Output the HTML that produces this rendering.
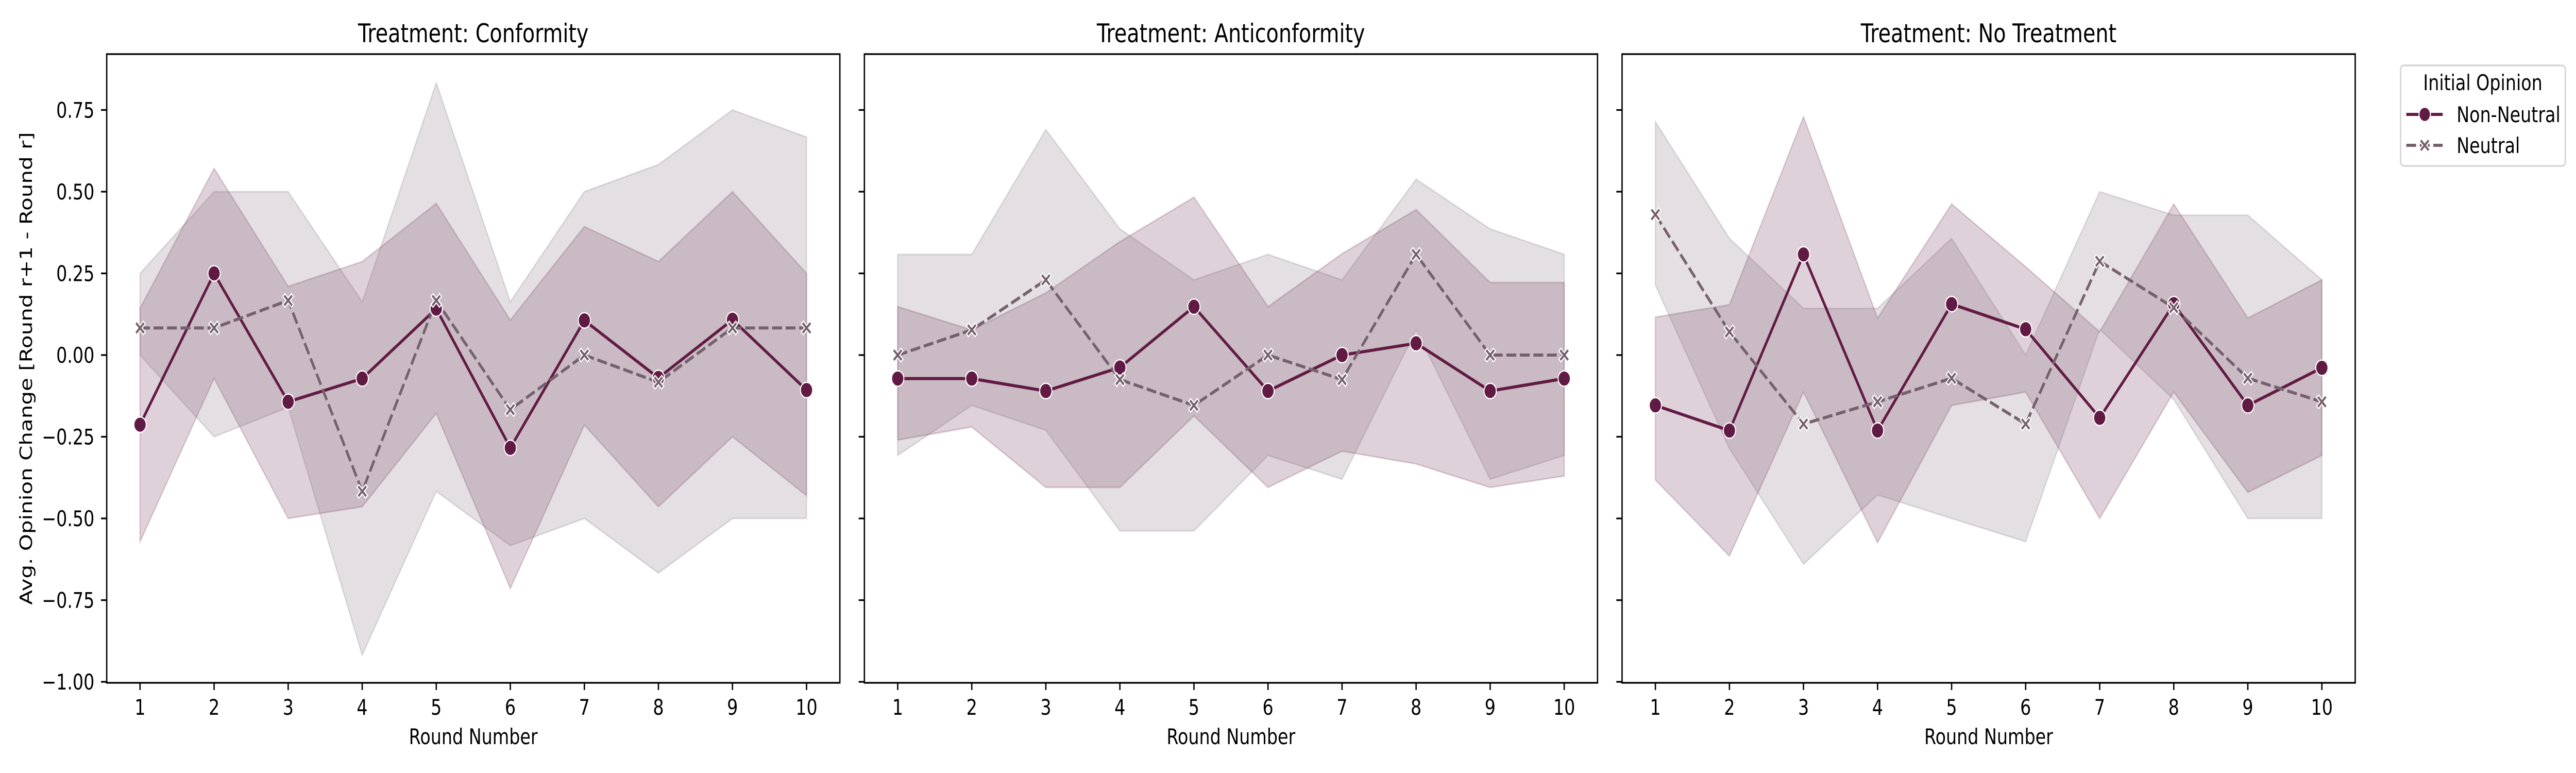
<!DOCTYPE html>
<html><head><meta charset="utf-8"><style>
html,body{margin:0;padding:0;background:#fff;width:100%;height:100%;overflow:hidden}
svg{display:block;width:100vw;height:100vh}
text{font-family:"DejaVu Sans","Liberation Sans",sans-serif;fill:#000}
</style></head><body>
<svg id="chart" viewBox="0 0 6300 1500" preserveAspectRatio="none" xmlns="http://www.w3.org/2000/svg">
<g id="panels"></g>
<g id="legend">
  <rect x="5871" y="127" width="403" height="195" rx="8" fill="#fff" stroke="#d6d6d6" stroke-width="3.5"/>
  <text x="6072" y="175" font-size="42" text-anchor="middle">Initial Opinion</text>
  <g>
    <line x1="5885" y1="222" x2="5974" y2="222" stroke="#611a43" stroke-width="6"/>
    <circle cx="5930" cy="222" r="14" fill="#611a43" stroke="#fff" stroke-width="2.5"/>
    <text x="6008" y="237" font-size="42">Non-Neutral</text>
  </g>
  <g>
    <line x1="5885" y1="282" x2="5974" y2="282" stroke="#75606d" stroke-width="6" stroke-dasharray="24,9"/>
    <path d="M-13,-8 L-8,-13 L0,-5 L8,-13 L13,-8 L5,0 L13,8 L8,13 L0,5 L-8,13 L-13,8 L-5,0 Z" transform="translate(5930,282)" fill="#75606d" stroke="#fff" stroke-width="2.5"/>
    <text x="6008" y="297" font-size="42">Neutral</text>
  </g>
</g>
</svg>
<script>
const rounds = [1,2,3,4,5,6,7,8,9,10];
const titles = ["Treatment: Conformity","Treatment: Anticonformity","Treatment: No Treatment"];
const yTicks = [-1.00,-0.75,-0.50,-0.25,0.00,0.25,0.50,0.75];
const yTickLabels = ["\u22121.00","\u22120.75","\u22120.50","\u22120.25","0.00","0.25","0.50","0.75"];

// Conformity
const confNN = [-0.213,0.25,-0.143,-0.072,0.142,-0.284,0.106,-0.07,0.108,-0.107];
const confNNhi = [0.143,0.571,0.21,0.286,0.464,0.107,0.393,0.286,0.5,0.25];
const confNNlo = [-0.571,-0.071,-0.5,-0.464,-0.178,-0.714,-0.214,-0.464,-0.25,-0.43];
const confN = [0.083,0.083,0.167,-0.417,0.167,-0.167,0,-0.083,0.083,0.083];
const confNhi = [0.25,0.5,0.5,0.163,0.833,0.163,0.5,0.583,0.75,0.667];
const confNlo = [0,-0.25,-0.16,-0.918,-0.417,-0.583,-0.5,-0.667,-0.5,-0.5];
// Anticonformity
const antiNN = [-0.072,-0.072,-0.11,-0.038,0.148,-0.11,0,0.036,-0.11,-0.072];
const antiNNhi = [0.148,0.077,0.19,0.347,0.483,0.148,0.31,0.445,0.222,0.222];
const antiNNlo = [-0.26,-0.22,-0.405,-0.405,-0.186,-0.405,-0.294,-0.333,-0.405,-0.37];
const antiN = [0,0.077,0.23,-0.075,-0.154,0,-0.075,0.308,0,0];
const antiNhi = [0.308,0.308,0.69,0.386,0.23,0.308,0.23,0.538,0.386,0.308];
const antiNlo = [-0.307,-0.154,-0.23,-0.538,-0.538,-0.307,-0.38,0.077,-0.38,-0.307];
// No treatment
const noNN = [-0.154,-0.231,0.308,-0.231,0.156,0.079,-0.192,0.156,-0.154,-0.039];
const noNNhi = [0.116,0.154,0.729,0.113,0.462,0.27,0.071,0.462,0.113,0.23];
const noNNlo = [-0.382,-0.615,-0.113,-0.574,-0.154,-0.113,-0.5,-0.113,-0.42,-0.307];
const noN = [0.43,0.071,-0.211,-0.143,-0.071,-0.211,0.287,0.145,-0.071,-0.143];
const noNhi = [0.714,0.357,0.143,0.143,0.357,0,0.5,0.428,0.428,0.23];
const noNlo = [0.214,-0.286,-0.64,-0.428,-0.5,-0.571,0.079,-0.136,-0.5,-0.5];

const panelData = [
  {nn:confNN,nnHi:confNNhi,nnLo:confNNlo,n:confN,nHi:confNhi,nLo:confNlo},
  {nn:antiNN,nnHi:antiNNhi,nnLo:antiNNlo,n:antiN,nHi:antiNhi,nLo:antiNlo},
  {nn:noNN,nnHi:noNNhi,nnLo:noNNlo,n:noN,nHi:noNhi,nLo:noNlo}
];
const panelLeft = [261,2114,3967];
const panelW = 1793, plotTop = 105, plotBottom = 1325;
const xMin = 0.55, xMax = 10.45, yMin = -1.003, yMax = 0.921;
const NS = "http://www.w3.org/2000/svg";
const rootG = document.getElementById('panels');
const xPath = 'M-13,-8 L-8,-13 L0,-5 L8,-13 L13,-8 L5,0 L13,8 L8,13 L0,5 L-8,13 L-13,8 L-5,0 Z';
function mk(tag, attrs, parent){const e=document.createElementNS(NS,tag);for(const k in attrs)e.setAttribute(k,attrs[k]);parent.appendChild(e);return e;}

panelData.forEach((d,pi)=>{
  const L = panelLeft[pi];
  const xs = v => L + (v - xMin)/(xMax - xMin)*panelW;
  const ys = v => plotBottom - (v - yMin)/(yMax - yMin)*(plotBottom - plotTop);
  const g = mk('g',{},rootG);
  
  
  const title = mk('text',{x:L+panelW/2,y:82,'font-size':50,'text-anchor':'middle'},g);
  title.textContent = titles[pi];
  
  
  function band(hi, lo, col, name){
    let p = rounds.map((r,i)=>(i?'L':'M')+xs(r)+','+ys(hi[i])).join(' ');
    for(let i=rounds.length-1;i>=0;i--) p += ' L'+xs(rounds[i])+','+ys(lo[i]);
    const e = mk('path',{d:p+' Z',fill:col,'fill-opacity':0.2,stroke:col,'stroke-opacity':0.2,'stroke-width':3},g);
    
    
  }
  band(d.nnHi, d.nnLo, '#611a43', 'ci-band-non-neutral');
  band(d.nHi, d.nLo, '#75606d', 'ci-band-neutral');
  const lnn = mk('polyline',{points:rounds.map((r,i)=>xs(r)+','+ys(d.nn[i])).join(' '),fill:'none',stroke:'#611a43','stroke-width':6},g);
  
  
  const ln = mk('polyline',{points:rounds.map((r,i)=>xs(r)+','+ys(d.n[i])).join(' '),fill:'none',stroke:'#75606d','stroke-width':6,'stroke-dasharray':'24,9'},g);
  
  
  rounds.forEach((r,i)=>{
    const c = mk('circle',{cx:xs(r),cy:ys(d.nn[i]),r:15,fill:'#611a43',stroke:'#fff','stroke-width':2.5},g);
    
    
    const x = mk('path',{d:xPath,transform:'translate('+xs(r)+','+ys(d.n[i])+')',fill:'#75606d',stroke:'#fff','stroke-width':2.5},g);
    
    
  });
  const frame = mk('rect',{x:L,y:plotTop,width:panelW,height:plotBottom-plotTop,fill:'none',stroke:'#000','stroke-width':3.3},g);
  
  
  rounds.forEach(r=>{
    const t = mk('line',{x1:xs(r),x2:xs(r),y1:plotBottom,y2:plotBottom+14,stroke:'#000','stroke-width':3.3},g);
    
    
    const tl = mk('text',{x:xs(r),y:plotBottom+62,'font-size':42,'text-anchor':'middle'},g);
    tl.textContent = r;
    
    
  });
  yTicks.forEach((v,i)=>{
    const t = mk('line',{x1:L-14,x2:L,y1:ys(v),y2:ys(v),stroke:'#000','stroke-width':3.3},g);
    
    
    if(pi===0){
      const tl = mk('text',{x:L-30,y:ys(v)+15,'font-size':42,'text-anchor':'end'},g);
      tl.textContent = yTickLabels[i];
      
      
    }
  });
  const xl = mk('text',{x:L+panelW/2,y:1444,'font-size':42,'text-anchor':'middle'},g);
  xl.textContent = 'Round Number';
  
  
  if(pi===0){
    const yl = mk('text',{x:0,y:0,'font-size':42,'text-anchor':'middle',transform:'translate(78,715) rotate(-90)'},g);
    yl.textContent = 'Avg. Opinion Change [Round r+1 - Round r]';
    
    
  }
});
</script>
</body></html>
